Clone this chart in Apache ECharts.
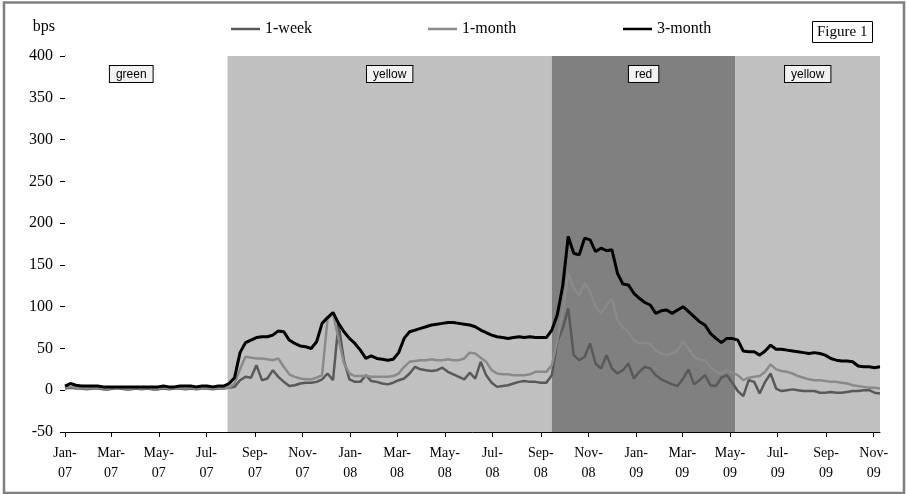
<!DOCTYPE html>
<html><head><meta charset="utf-8">
<script src="https://cdn.jsdelivr.net/npm/echarts@6/dist/echarts.min.js"></script>
<style>html,body{margin:0;padding:0;background:#fff;}#c{width:907px;height:494px;}</style>
</head><body><div id="c"></div>
<script>
// observation day = days since 2007-01-01 (weekly readings)
const obsDay = [
0,7,14,21,28,35,42,49,56,63,
70,77,84,91,98,105,112,119,126,133,
140,147,154,161,168,175,182,189,196,203,
210,217,224,231,238,245,252,259,266,273,
280,287,294,301,308,315,322,329,336,343,
350,357,364,371,378,385,392,399,406,413,
420,427,434,441,448,455,462,469,476,483,
490,497,504,511,518,525,532,539,546,553,
560,567,574,581,588,595,602,609,616,623,
630,637,644,651,658,665,672,679,686,693,
700,707,714,721,728,735,742,749,756,763,
770,777,784,791,798,805,812,819,826,833,
840,847,854,861,868,875,882,889,896,903,
910,917,924,931,938,945,952,959,966,973,
980,987,994,1001,1008,1015,1022,1029,1036,1043];
const week1 = [
2,3,2,2,1,2,2,1,1,2,
2,1,1,2,1,2,1,1,2,1,
2,2,1,2,1,2,2,1,2,2,
3,4,12,16,15,30,12,14,24,16,
10,5,6,8,9,9,10,13,20,12,
80,35,13,10,10,18,11,10,8,7,
9,12,14,20,28,25,24,23,24,27,
22,19,16,13,21,14,34,18,9,4,
5,6,8,10,11,10,10,9,9,18,
58,74,98,42,36,40,56,32,26,42,
26,20,24,32,14,22,28,26,18,13,
10,7,5,14,25,7,12,18,6,5,
15,18,9,-1,-7,12,10,-4,10,20,
2,-1,0,1,0,-1,-1,-1,-3,-3,
-2,-3,-3,-2,-1,-1,0,0,-3,-4];
const month1 = [
3,4,3,3,2,3,3,2,2,3,
3,2,2,3,2,3,2,2,3,2,
3,3,2,3,2,3,3,2,3,3,
3,8,25,40,39,38,38,37,36,38,
28,19,16,14,13,13,15,18,85,92,
62,32,20,17,17,17,16,16,16,16,
17,20,28,34,35,36,36,37,36,36,
37,36,36,38,45,44,39,34,24,20,
19,19,18,18,18,19,22,22,22,30,
60,95,140,122,114,128,118,100,92,102,
110,84,75,70,60,56,57,55,48,44,
42,44,48,58,50,40,37,36,28,22,
20,24,21,18,12,15,16,17,22,31,
25,23,22,20,17,15,13,12,12,11,
10,10,9,8,6,5,4,3,3,2];
const month3 = [
5,8,6,5,5,5,5,4,4,4,
4,4,4,4,4,4,4,4,5,4,
4,5,5,5,4,5,5,4,5,5,
8,15,45,57,60,63,64,64,66,71,
70,60,56,53,52,50,58,80,87,93,
80,70,62,56,48,38,41,38,37,36,
37,45,62,70,72,74,76,78,79,80,
81,81,80,79,78,76,72,69,66,64,
63,62,63,64,63,64,63,63,63,72,
90,125,184,164,162,182,180,166,170,167,
168,140,127,126,116,110,105,102,92,95,
96,92,96,100,94,88,82,78,68,62,
57,62,62,60,47,46,46,42,47,54,
49,49,48,47,46,45,44,45,44,42,
38,36,35,35,34,29,28,28,27,28];
const tickDates = ['2007-01-01','2007-03-01','2007-05-01','2007-07-01','2007-09-01','2007-11-01',
'2008-01-01','2008-03-01','2008-05-01','2008-07-01','2008-09-01','2008-11-01',
'2009-01-01','2009-03-01','2009-05-01','2009-07-01','2009-09-01','2009-11-01'];
const tickLabels = ['Jan-\n07','Mar-\n07','May-\n07','Jul-\n07','Sep-\n07','Nov-\n07',
'Jan-\n08','Mar-\n08','May-\n08','Jul-\n08','Sep-\n08','Nov-\n08',
'Jan-\n09','Mar-\n09','May-\n09','Jul-\n09','Sep-\n09','Nov-\n09'];
const bandNames = ['green','yellow','red','yellow'];
const bandStart = ['2007-01-01','2007-07-28','2008-09-15','2009-05-08'];
const bandEnd   = ['2007-07-28','2008-09-15','2009-05-08','2009-11-09'];
const axisEnd = '2009-11-09';

const bandFill = {green:'#ffffff', yellow:'#c0c0c0', red:'#808080'};
function dayOf(s){const p=s.split('-');return (Date.UTC(+p[0],+p[1]-1,+p[2])-Date.UTC(2007,0,1))/86400000;}
const tickDays = tickDates.map(dayOf);
const labelMap = {}; tickDays.forEach((d,i)=>labelMap[d]=tickLabels[i]);
const serif = 'Liberation Serif';
const sans = 'Liberation Sans';

const chart = echarts.init(document.getElementById('c'), null, {renderer:'canvas'});
const legendBase = {orient:'horizontal', top:21, padding:0, icon:'rect', itemWidth:29, itemHeight:2.5, itemGap:10,
  textStyle:{fontFamily:serif, fontSize:16, color:'#000'}, selectedMode:false};
chart.setOption({
  animation:false,
  backgroundColor:'#fff',
  title:{text:'Figure 1', left:812, top:21, padding:[3,5,3,5], borderColor:'#000', borderWidth:1, backgroundColor:'#fff',
    textStyle:{fontFamily:serif, fontSize:15, fontWeight:'normal', color:'#000', lineHeight:16}},
  legend:[
    Object.assign({data:['1-week'], left:231}, legendBase),
    Object.assign({data:['1-month'], left:428}, legendBase),
    Object.assign({data:['3-month'], left:623}, legendBase)
  ],
  grid:{left:65, right:27, top:56, bottom:62, containLabel:false},
  xAxis:{type:'value', min:0, max:dayOf(axisEnd),
    axisLine:{show:true, onZero:false, lineStyle:{color:'#000', width:1}},
    axisTick:{show:true, customValues:tickDays, length:5, inside:false, lineStyle:{color:'#000'}},
    axisLabel:{customValues:tickDays, formatter:v=>labelMap[v]||'', fontFamily:serif, fontSize:14, lineHeight:20, color:'#000', margin:11},
    splitLine:{show:false}},
  yAxis:{type:'value', min:-50, max:400, interval:50,
    name:'bps', nameLocation:'end', nameGap:29,
    nameTextStyle:{fontFamily:serif, fontSize:16, color:'#000', align:'right', verticalAlign:'middle', padding:[0,10,0,0]},
    axisLine:{show:true, lineStyle:{color:'#000', width:1}},
    axisTick:{show:true, length:5, lineStyle:{color:'#000'}},
    axisLabel:{fontFamily:serif, fontSize:16, color:'#000', margin:12},
    splitLine:{show:false}},
  graphic:[{type:'rect', silent:true, z:100, shape:{x:4, y:2.5, width:900, height:490.5},
    style:{fill:'none', stroke:'#808080', lineWidth:2.5}}],
  series:[
    {name:'bands', type:'line', data:[], z:1, silent:true,
      markArea:{silent:true,
        label:{show:true, position:'insideTop', distance:10, fontFamily:sans, fontSize:12, color:'#000',
          backgroundColor:'#f2f2f2', borderColor:'#000', borderWidth:1, padding:[2,6,1,6], lineHeight:13},
        data: bandNames.map((n,i)=>[
          {name:n, xAxis:dayOf(bandStart[i]), itemStyle:{color:bandFill[n], opacity:1},
            label:{offset: i===0?[-15,0]:[0,0]}},
          {xAxis:dayOf(bandEnd[i])}
        ])}},
    {name:'1-week', type:'line', z:3, symbol:'none', data:obsDay.map((d,i)=>[d,week1[i]]),
      lineStyle:{color:'#595959', width:2.5}, itemStyle:{color:'#595959'}},
    {name:'1-month', type:'line', z:4, symbol:'none', data:obsDay.map((d,i)=>[d,month1[i]]),
      lineStyle:{color:'#8a8a8a', width:2.5}, itemStyle:{color:'#8a8a8a'}},
    {name:'3-month', type:'line', z:5, symbol:'none', data:obsDay.map((d,i)=>[d,month3[i]]),
      lineStyle:{color:'#000000', width:3}, itemStyle:{color:'#000000'}}
  ]
});
</script></body></html>
